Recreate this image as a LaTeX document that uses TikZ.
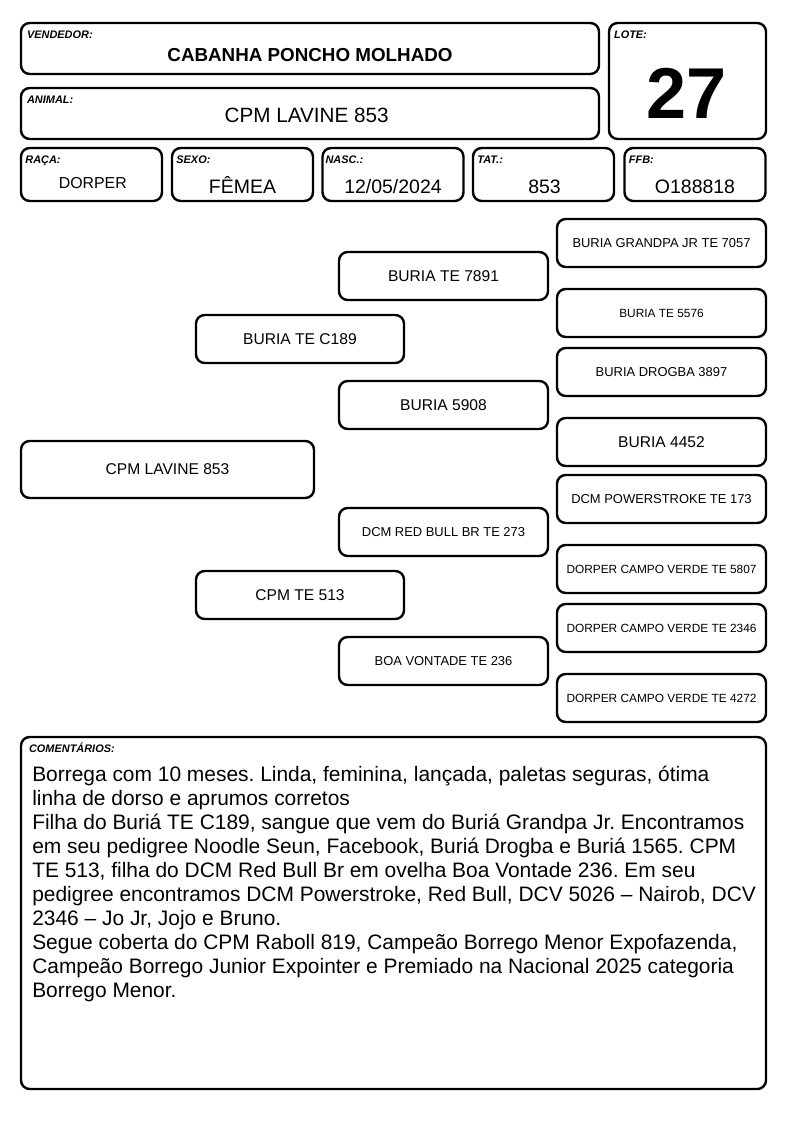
\documentclass[tikz,border=0pt]{standalone}
\usepackage{fontspec}
\setmainfont{Liberation Sans}
\usetikzlibrary{math}

\begin{document}
\begin{tikzpicture}[x=0.75pt,y=-0.75pt,
    cell/.style={draw=black, line width=1.8pt, rounded corners=6.5pt, inner sep=0pt, align=center},
    lbl/.style={anchor=base west, inner sep=0pt, font=\fontsize{8.2}{9}\selectfont\bfseries\itshape},
    val/.style={anchor=base, inner sep=0pt, font=\fontsize{14.6}{16}\selectfont},
    big/.style={font=\fontsize{11.7}{13}\selectfont},
    mid/.style={font=\fontsize{9.7}{11}\selectfont},
    small/.style={font=\fontsize{8.9}{10}\selectfont},
    info/.style={cell, minimum width=105.75pt, minimum height=39.75pt},
    gena/.style={cell, minimum width=156pt, minimum height=36pt},
    genb/.style={cell, minimum width=156.75pt, minimum height=36pt}]
      \tikzmath{\cola = 167.5; \colb = 300; \colc = 443.5; \cold = 661.5; \rowi = 174.5;}
      \useasboundingbox (0,0) rectangle (794,1123);
      \node[cell, minimum width=433.5pt, minimum height=38.25pt] (vendedor) at (310,48.5) {};
      \node[lbl] at ([xshift=5.25pt,yshift=-12.8pt]vendedor.north west) {VENDEDOR:};
      \node[anchor=base, inner sep=0pt, font=\fontsize{14.1}{16}\selectfont\bfseries] (vendnome) at ([yshift=-9.4pt]vendedor.center) {CABANHA PONCHO MOLHADO};
      \node[cell, minimum width=433.5pt, minimum height=38.25pt] (animal) at (310,113.5) {};
      \node[lbl] at ([xshift=5.25pt,yshift=-12.5pt]animal.north west) {ANIMAL:};
      \node[anchor=base, inner sep=0pt, font=\fontsize{15.5}{17}\selectfont] (animalnome) at ([xshift=-2.5pt,yshift=-6.9pt]animal.center) {CPM LAVINE 853};
      \node[cell, minimum width=117.75pt, minimum height=87pt] (lote) at (687.5,81) {};
      \node[lbl] at ([xshift=4.5pt,yshift=-12.8pt]lote.north west) {LOTE:};
      \node[anchor=base, inner sep=0pt, font=\fontsize{54}{60}\selectfont\bfseries] (lotenum) at ([xshift=-1pt,yshift=-28pt]lote.center) {27};
      \node[info] (raca) at (91.5,\rowi) {};
      \node[lbl] at ([xshift=4pt,yshift=-12.8pt]raca.north west) {RAÇA:};
      \node[val, font=\fontsize{11.9}{13}\selectfont] (racaval) at ([xshift=1pt,yshift=-10.3pt]raca.center) {DORPER};
      \node[info] (sexo) at (242.5,\rowi) {};
      \node[lbl] at ([xshift=4pt,yshift=-12.8pt]sexo.north west) {SEXO:};
      \node[val] (sexoval) at ([yshift=-13.9pt]sexo.center) {FÊMEA};
      \node[info] (nasc) at (393,\rowi) {};
      \node[lbl] at ([xshift=3pt,yshift=-12.8pt]nasc.north west) {NASC.:};
      \node[val] (nascval) at ([yshift=-13.9pt]nasc.center) {12/05/2024};
      \node[info] (tat) at (543.5,\rowi) {};
      \node[lbl] at ([xshift=4pt,yshift=-12.8pt]tat.north west) {TAT.:};
      \node[val] (tatval) at ([xshift=0.75pt,yshift=-13.9pt]tat.center) {853};
      \node[info] (ffb) at (695,\rowi) {};
      \node[lbl] at ([xshift=4pt,yshift=-12.8pt]ffb.north west) {FFB:};
      \node[val] (ffbval) at ([yshift=-13.9pt]ffb.center) {O188818};
      \node[cell, big, minimum width=219.75pt, minimum height=42.75pt] (lavine) at (\cola,469.5) {CPM LAVINE 853};
      \node[gena, big] (c189) at (\colb,339) {BURIA TE C189};
      \node[gena, big] (te513) at (\colb,595) {CPM TE 513};
      \node[genb, big] (te7891) at (\colc,276) {BURIA TE 7891};
      \node[genb, big] (b5908) at (\colc,405) {BURIA 5908};
      \node[genb, mid] (redbull) at (\colc,532) {DCM RED BULL BR TE 273};
      \node[genb, mid] (boavontade) at (\colc,661) {BOA VONTADE TE 236};
      \node[genb, mid] (grandpa) at (\cold,243) {BURIA GRANDPA JR TE 7057};
      \node[genb, small] (te5576) at (\cold,313) {BURIA TE 5576};
      \node[genb, mid] (drogba) at (\cold,372) {BURIA DROGBA 3897};
      \node[genb, big] (b4452) at (\cold,442) {BURIA 4452};
      \node[genb, mid] (powerstroke) at (\cold,499) {DCM POWERSTROKE TE 173};
      \node[genb, small] (cv5807) at (\cold,569) {DORPER CAMPO VERDE TE 5807};
      \node[genb, small] (cv2346) at (\cold,628) {DORPER CAMPO VERDE TE 2346};
      \node[genb, small] (cv4272) at (\cold,698) {DORPER CAMPO VERDE TE 4272};
      \node[cell, minimum width=558.75pt, minimum height=264pt] (coment) at (393.5,913) {};
      \node[lbl] at ([xshift=6.75pt,yshift=-12.5pt]coment.north west) {COMENTÁRIOS:};
      \node[anchor=north west, inner sep=0pt, align=left, font=\fontsize{15.7}{18}\selectfont\frenchspacing] (texto) at (32,766) {Borrega com 10 meses. Linda, feminina, lançada, paletas seguras, ótima\\
        linha de dorso e aprumos corretos\\
        Filha do Buriá TE C189, sangue que vem do Buriá Grandpa Jr. Encontramos\\
        em seu pedigree Noodle Seun, Facebook, Buriá Drogba e Buriá 1565. CPM\\
        TE 513, filha do DCM Red Bull Br em ovelha Boa Vontade 236. Em seu\\
        pedigree encontramos DCM Powerstroke, Red Bull, DCV 5026 – Nairob, DCV\\
        2346 – Jo Jr, Jojo e Bruno.\\
        Segue coberta do CPM Raboll 819, Campeão Borrego Menor Expofazenda,\\
        Campeão Borrego Junior Expointer e Premiado na Nacional 2025 categoria\\
        Borrego Menor.};
    \end{tikzpicture}
\end{document}
